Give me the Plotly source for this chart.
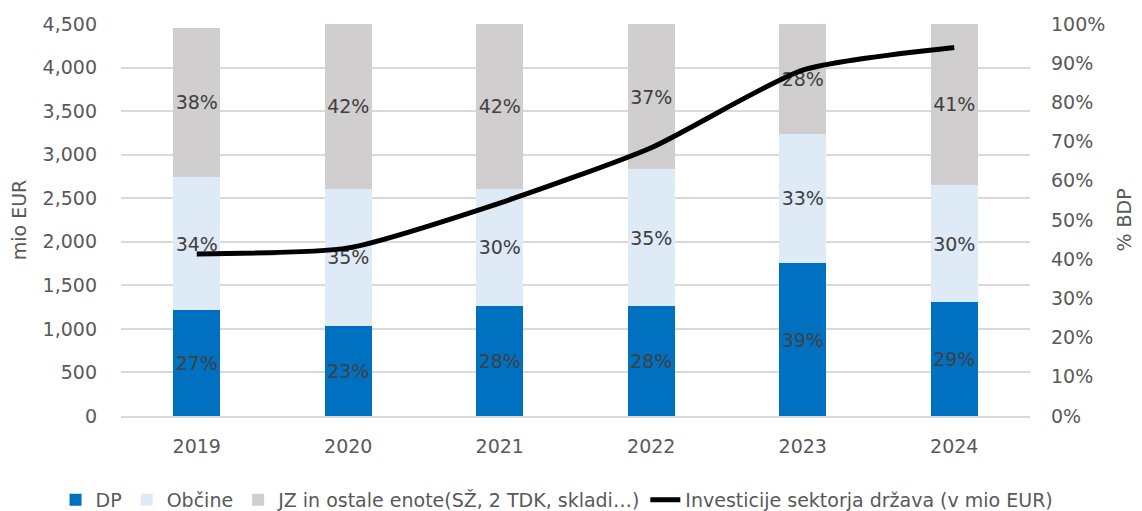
import plotly.graph_objects as go

years = ["2019", "2020", "2021", "2022", "2023", "2024"]
dp_share = [0.27, 0.23, 0.28, 0.28, 0.39, 0.29]
obcine_share = [0.34, 0.35, 0.30, 0.35, 0.33, 0.30]
jz_share = [0.38, 0.42, 0.42, 0.37, 0.28, 0.41]
investicije = [1860, 1930, 2445, 3080, 3970, 4230]

names = ["DP", "Občine", "JZ in ostale enote(SŽ, 2 TDK, skladi…)", "Investicije sektorja država (v mio EUR)"]
colors = ["#0070C0", "#DEEAF6", "#D0CECE"]

FONT = "DejaVu Sans"
TICK = "#595959"
LBL = "#404040"

fig = go.Figure()
for vals, nm, col in zip([dp_share, obcine_share, jz_share], names[:3], colors):
    fig.add_trace(go.Bar(
        x=years, y=vals, name=nm, marker=dict(color=col, line=dict(width=0)),
        width=0.31, yaxis="y",
        texttemplate="%{y:.0%}", textposition="inside", insidetextanchor="middle",
        textangle=0, constraintext="none",
        textfont=dict(family=FONT, size=19, color=LBL),
    ))

fig.add_trace(go.Scatter(
    x=years, y=investicije, name=names[3], yaxis="y2", mode="lines",
    line=dict(color="black", width=5, shape="spline", smoothing=0.6),
))

fig.update_layout(
    width=1134, height=503,
    margin=dict(l=113, r=112, t=16, b=95, autoexpand=False),
    paper_bgcolor="white", plot_bgcolor="white",
    barmode="stack",
    font=dict(family=FONT, size=19, color=TICK),
    showlegend=True,
    legend=dict(orientation="h", x=-0.072, xanchor="left", y=-0.214, yanchor="middle",
                font=dict(family=FONT, size=19, color=TICK), traceorder="normal"),
    xaxis=dict(showgrid=False, showline=True, linecolor="#D9D9D9", linewidth=1.5,
               ticks="", tickfont=dict(size=19, color=TICK), ticklabelstandoff=12,
               automargin=False),
    yaxis=dict(side="right", range=[0, 1], dtick=0.1, tickformat=".0%", showgrid=False,
               zeroline=False, ticks="", tickfont=dict(size=19, color=TICK),
               ticklabelstandoff=20, automargin=False,
               title=dict(text="% BDP", font=dict(size=19, color=TICK), standoff=13)),
    yaxis2=dict(side="left", overlaying="y", range=[0, 4500], dtick=500, tickformat=",",
                showgrid=True, gridcolor="#D9D9D9", gridwidth=1.5, zeroline=False,
                ticks="", tickfont=dict(size=19, color=TICK), ticklabelstandoff=23,
                automargin=False,
                title=dict(text="mio EUR", font=dict(size=19, color=TICK), standoff=12)),
)

fig.write_html("out.html")
